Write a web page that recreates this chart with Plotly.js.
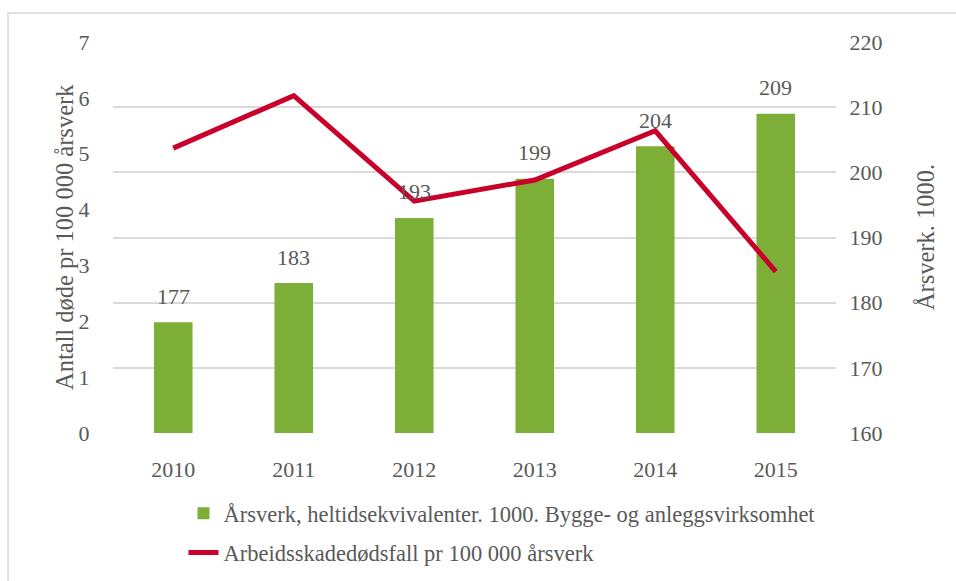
<!DOCTYPE html>
<html>
<head>
<meta charset="utf-8">
<script src="https://cdn.plot.ly/plotly-3.0.1.min.js"></script>
<style>html,body{margin:0;padding:0;background:#fff;}#chart{width:956px;height:581px;}</style>
</head>
<body>
<div id="chart"></div>
<script>
const years = ['2010','2011','2012','2013','2014','2015'];
const arsverk = [177, 183, 193, 199, 204, 209];
const dodsfall = [5.10, 6.04, 4.15, 4.53, 5.41, 2.89];
const barName = 'Årsverk, heltidsekvivalenter. 1000. Bygge- og anleggsvirksomhet';
const lineName = 'Arbeidsskadedødsfall pr 100 000 årsverk';
const leftTitle = 'Antall døde pr 100 000 årsverk';
const rightTitle = 'Årsverk. 1000.';

const FONT = 'Liberation Serif';
const GREY = '#595959';

const traces = [
  {
    type: 'bar', x: years, y: arsverk, name: barName, yaxis: 'y',
    marker: {color: '#7DAE37'}, width: 0.32, legendgroup: 'a'
  },
  {
    type: 'scatter', mode: 'lines', x: years, y: dodsfall, name: lineName, yaxis: 'y2',
    line: {color: '#C8002A', width: 5}, legendgroup: 'b'
  }
];

const annotations = years.map((yr, i) => ({
  x: i, y: arsverk[i], xref: 'x', yref: 'y', text: String(arsverk[i]),
  showarrow: false, yanchor: 'middle', yshift: 26,
  font: {family: FONT, size: 22, color: GREY}
}));
annotations.push({
  xref: 'paper', yref: 'paper', x: -0.067, y: 0.5, text: leftTitle, textangle: -90,
  showarrow: false, xanchor: 'center', yanchor: 'middle',
  font: {family: FONT, size: 24.5, color: GREY}
});
annotations.push({
  xref: 'paper', yref: 'paper', x: 1.124, y: 0.5, text: rightTitle, textangle: -90,
  showarrow: false, xanchor: 'center', yanchor: 'middle',
  font: {family: FONT, size: 24.5, color: GREY}
});

const layout = {
  width: 956, height: 581,
  margin: {l: 113, r: 120, t: 42, b: 148},
  paper_bgcolor: '#fff', plot_bgcolor: '#fff',
  font: {family: FONT, color: GREY, size: 22},
  showlegend: true,
  legend: {
    orientation: 'v', x: 0.0975, xanchor: 'left', yref: 'container', y: 0.153, yanchor: 'top',
    font: {family: FONT, size: 22.5, color: GREY}, tracegroupgap: 7,
    bgcolor: 'rgba(0,0,0,0)', traceorder: 'grouped'
  },
  xaxis: {
    type: 'category', range: [-0.5, 5.5], autorange: false,
    showgrid: false, zeroline: false, showline: false,
    ticks: 'outside', ticklen: 17, tickcolor: 'rgba(0,0,0,0)',
    tickfont: {family: FONT, size: 22, color: GREY}
  },
  yaxis: {
    range: [160, 220], dtick: 10, side: 'right',
    showgrid: true, gridcolor: '#D9D9D9', gridwidth: 2, zeroline: false, showline: false,
    ticks: 'outside', ticklen: 8, tickcolor: 'rgba(0,0,0,0)',
    tickfont: {family: FONT, size: 22, color: GREY}
  },
  yaxis2: {
    range: [0, 7], dtick: 1, overlaying: 'y', side: 'left',
    showgrid: false, zeroline: false, showline: false,
    ticks: 'outside', ticklen: 18, tickcolor: 'rgba(0,0,0,0)',
    tickfont: {family: FONT, size: 22, color: GREY}
  },
  bargap: 0.68,
  annotations: annotations,
  shapes: [{
    type: 'rect', xref: 'paper', yref: 'paper',
    x0: -0.1452, x1: 1.3, y0: -0.6, y1: 1.074,
    line: {color: '#D9D9D9', width: 1.5}, fillcolor: 'rgba(0,0,0,0)', layer: 'below'
  }]
};

Plotly.newPlot('chart', traces, layout, {displayModeBar: false, staticPlot: true});
</script>
</body>
</html>
